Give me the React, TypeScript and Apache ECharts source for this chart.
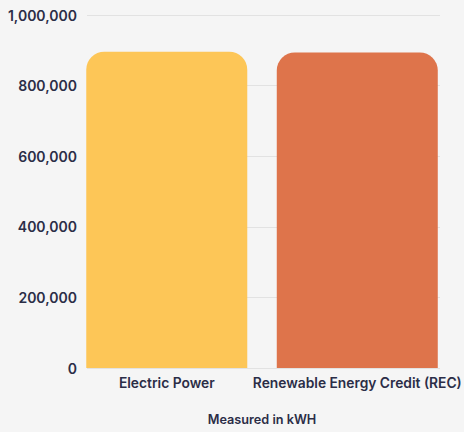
import React, { useEffect, useRef } from "react";
import * as echarts from "echarts";

const categories = ["Electric Power", "Renewable Energy Credit (REC)"];
const values = [896000, 894000];
const barColors = ["#FDC657", "#DE744B"];
const yTicks = [0, 200000, 400000, 600000, 800000, 1000000];
const xAxisTitle = "Measured in kWH";

export default function App() {
  const ref = useRef<HTMLDivElement>(null);
  useEffect(() => {
    const chart = echarts.init(ref.current!, null, { renderer: "svg" });
    const textColor = "#2B2D47";
    const font = "Inter";
    chart.setOption({
      animation: false,
      backgroundColor: "#F5F5F5",
      grid: [
        { left: 87, right: 24, top: 15, bottom: 64 },
        { left: 71.5, right: 8.5, top: 15, bottom: 64 },
      ],
      xAxis: [
        { type: "category", gridIndex: 0, data: categories, show: false },
        {
          type: "category",
          gridIndex: 1,
          data: categories,
          axisLine: { show: false },
          axisTick: { show: false },
          axisLabel: {
            color: textColor,
            fontFamily: font,
            fontWeight: 600,
            fontSize: 13.8,
            margin: 8,
            interval: 0,
          },
          name: xAxisTitle,
          nameLocation: "middle",
          nameGap: 45,
          nameTextStyle: {
            color: textColor,
            fontFamily: font,
            fontWeight: 600,
            fontSize: 12.7,
          },
        },
      ],
      yAxis: [
        {
          type: "value",
          gridIndex: 0,
          min: yTicks[0],
          max: yTicks[yTicks.length - 1],
          interval: yTicks[1] - yTicks[0],
          axisLine: { show: false },
          axisTick: { show: false },
          axisLabel: {
            color: textColor,
            fontFamily: font,
            fontWeight: 600,
            fontSize: 14,
            margin: 10,
            formatter: (v: number) => v.toLocaleString("en-US"),
          },
          splitLine: { lineStyle: { color: "#E2E2E2", width: 1 } },
        },
        {
          type: "value",
          gridIndex: 1,
          min: yTicks[0],
          max: yTicks[yTicks.length - 1],
          show: false,
          splitLine: { show: false },
        },
      ],
      series: [
        {
          type: "bar",
          xAxisIndex: 1,
          yAxisIndex: 1,
          barWidth: 161,
          data: values.map((v, i) => ({
            value: v,
            itemStyle: { color: barColors[i], borderRadius: [18, 18, 0, 0] },
          })),
        },
      ],
    });
    return () => chart.dispose();
  }, []);
  return (
    <div
      ref={ref}
      style={{ position: "absolute", left: 0, top: 0, width: 464, height: 432 }}
    />
  );
}
